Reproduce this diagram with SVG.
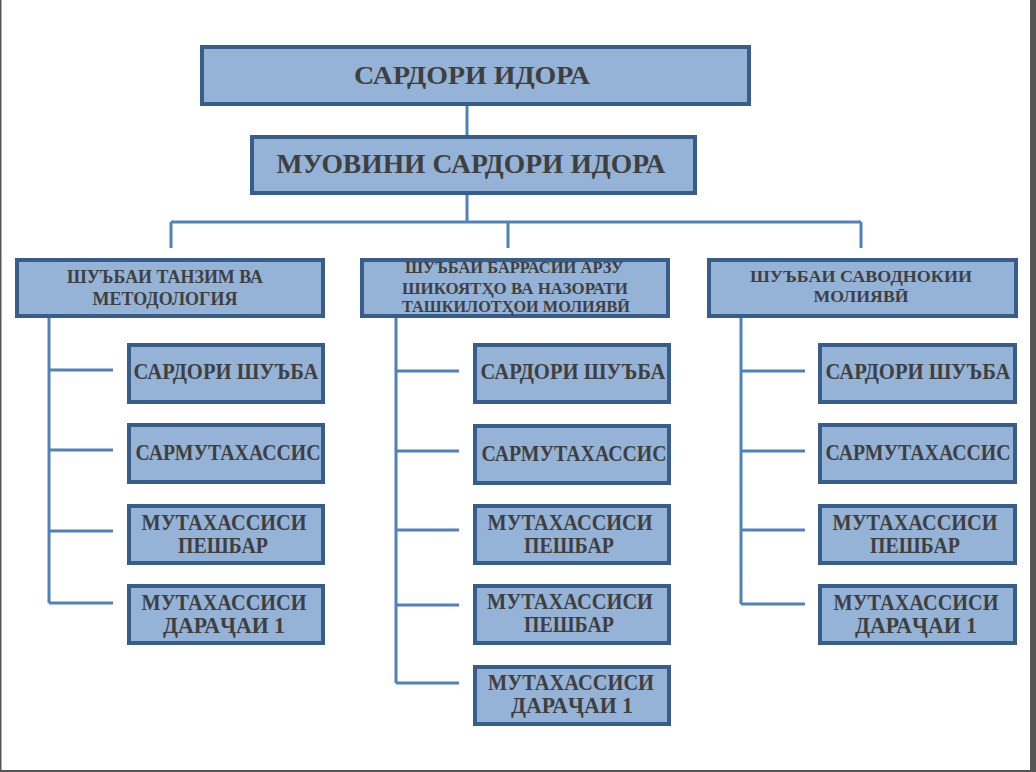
<svg xmlns="http://www.w3.org/2000/svg" width="1036" height="772" viewBox="0 0 1036 772">
<style>
.box{fill:#95b3d7;stroke:#385d8a;stroke-width:4}
.ln{stroke:#4f81bd;stroke-width:3;fill:none}
text{font-family:"Liberation Serif","Times New Roman",serif;font-weight:bold;fill:#3f3f3f;text-anchor:middle}
.t1{font-size:26px}
.t2{font-size:18.5px}
.t2r{font-size:17.5px}
.t3{font-size:16.5px}
.t4{font-size:22.5px}
</style>
<rect x="0" y="0" width="1036" height="772" fill="#ffffff"/>
<rect x="0" y="0" width="1.5" height="772" fill="#555555"/>
<rect x="1030" y="0" width="6" height="772" fill="#555555"/>
<rect x="0" y="770" width="1036" height="2" fill="#555555"/>
<g id="connectors">
<path class="ln" d="M467 104V137M467 193V222M171 222H861M171 222V248M508 222V248M861 222V248"/>
<path class="ln" d="M49 316V603M49 370H113M49 450H113M49 531H113M49 603H113"/>
<path class="ln" d="M396 316V683M396 371H459M396 451H459M396 530H459M396 605H459M396 683H459"/>
<path class="ln" d="M741 316V604M741 371H805M741 451H805M741 530H805M741 604H805"/>
</g>
<g id="n-head"><rect class="box" x="202" y="47" width="547" height="57"/><text class="t1" x="472" y="84" textLength="236" lengthAdjust="spacingAndGlyphs">САРДОРИ ИДОРА</text></g>
<g id="n-deputy"><rect class="box" x="252" y="137" width="443" height="56"/><text class="t1" x="471" y="173" textLength="389" lengthAdjust="spacingAndGlyphs" style="font-size:27px">МУОВИНИ САРДОРИ ИДОРА</text></g>
<g id="d-left"><rect class="box" x="17" y="260" width="306" height="56"/><text class="t2" x="165" y="283" textLength="196" lengthAdjust="spacingAndGlyphs">ШУЪБАИ ТАНЗИМ ВА</text><text class="t2" x="165" y="305" textLength="145" lengthAdjust="spacingAndGlyphs">МЕТОДОЛОГИЯ</text></g>
<g id="d-mid"><rect class="box" x="362" y="260" width="306" height="56"/><text class="t3" x="514" y="273" textLength="218" lengthAdjust="spacingAndGlyphs">ШУЪБАИ БАРРАСИИ АРЗУ</text><text class="t3" x="515" y="294" textLength="226" lengthAdjust="spacingAndGlyphs">ШИКОЯТҲО ВА НАЗОРАТИ</text><text class="t3" x="516" y="312" textLength="228" lengthAdjust="spacingAndGlyphs">ТАШКИЛОТҲОИ МОЛИЯВӢ</text></g>
<g id="d-right"><rect class="box" x="709" y="260" width="307" height="56"/><text class="t2r" x="861" y="282" textLength="222" lengthAdjust="spacingAndGlyphs">ШУЪБАИ САВОДНОКИИ</text><text class="t2r" x="861" y="302" textLength="95" lengthAdjust="spacingAndGlyphs">МОЛИЯВӢ</text></g>
<g id="l1"><rect class="box" x="129" y="345" width="194" height="57"/><text class="t4" x="226" y="379" textLength="185" lengthAdjust="spacingAndGlyphs">САРДОРИ ШУЪБА</text></g>
<g id="l2"><rect class="box" x="129" y="425" width="194" height="57"/><text class="t4" x="228" y="460" textLength="185" lengthAdjust="spacingAndGlyphs">САРМУТАХАССИС</text></g>
<g id="l3"><rect class="box" x="129" y="506" width="194" height="57"/><text class="t4" x="224" y="530" textLength="165" lengthAdjust="spacingAndGlyphs">МУТАХАССИСИ</text><text class="t4" x="223" y="553" textLength="90" lengthAdjust="spacingAndGlyphs">ПЕШБАР</text></g>
<g id="l4"><rect class="box" x="129" y="586" width="194" height="57"/><text class="t4" x="224" y="610" textLength="165" lengthAdjust="spacingAndGlyphs">МУТАХАССИСИ</text><text class="t4" x="224" y="633" textLength="122" lengthAdjust="spacingAndGlyphs">ДАРАҶАИ 1</text></g>
<g id="m1"><rect class="box" x="475" y="345" width="194" height="57"/><text class="t4" x="573" y="379" textLength="185" lengthAdjust="spacingAndGlyphs">САРДОРИ ШУЪБА</text></g>
<g id="m2"><rect class="box" x="475" y="426" width="194" height="57"/><text class="t4" x="574" y="461" textLength="185" lengthAdjust="spacingAndGlyphs">САРМУТАХАССИС</text></g>
<g id="m3"><rect class="box" x="475" y="506" width="194" height="57"/><text class="t4" x="570" y="530" textLength="165" lengthAdjust="spacingAndGlyphs">МУТАХАССИСИ</text><text class="t4" x="569" y="553" textLength="90" lengthAdjust="spacingAndGlyphs">ПЕШБАР</text></g>
<g id="m4"><rect class="box" x="475" y="586" width="194" height="57"/><text class="t4" x="570" y="609" textLength="166" lengthAdjust="spacingAndGlyphs">МУТАХАССИСИ</text><text class="t4" x="569" y="632" textLength="90" lengthAdjust="spacingAndGlyphs">ПЕШБАР</text></g>
<g id="m5"><rect class="box" x="475" y="667" width="194" height="57"/><text class="t4" x="571" y="690" textLength="166" lengthAdjust="spacingAndGlyphs">МУТАХАССИСИ</text><text class="t4" x="572" y="713" textLength="122" lengthAdjust="spacingAndGlyphs">ДАРАҶАИ 1</text></g>
<g id="r1"><rect class="box" x="820" y="345" width="195" height="57"/><text class="t4" x="918" y="379" textLength="185" lengthAdjust="spacingAndGlyphs">САРДОРИ ШУЪБА</text></g>
<g id="r2"><rect class="box" x="820" y="425" width="195" height="57"/><text class="t4" x="918" y="460" textLength="185" lengthAdjust="spacingAndGlyphs">САРМУТАХАССИС</text></g>
<g id="r3"><rect class="box" x="820" y="506" width="195" height="57"/><text class="t4" x="915" y="530" textLength="165" lengthAdjust="spacingAndGlyphs">МУТАХАССИСИ</text><text class="t4" x="915" y="553" textLength="90" lengthAdjust="spacingAndGlyphs">ПЕШБАР</text></g>
<g id="r4"><rect class="box" x="820" y="586" width="195" height="57"/><text class="t4" x="916" y="610" textLength="165" lengthAdjust="spacingAndGlyphs">МУТАХАССИСИ</text><text class="t4" x="916" y="633" textLength="122" lengthAdjust="spacingAndGlyphs">ДАРАҶАИ 1</text></g>
</svg>
